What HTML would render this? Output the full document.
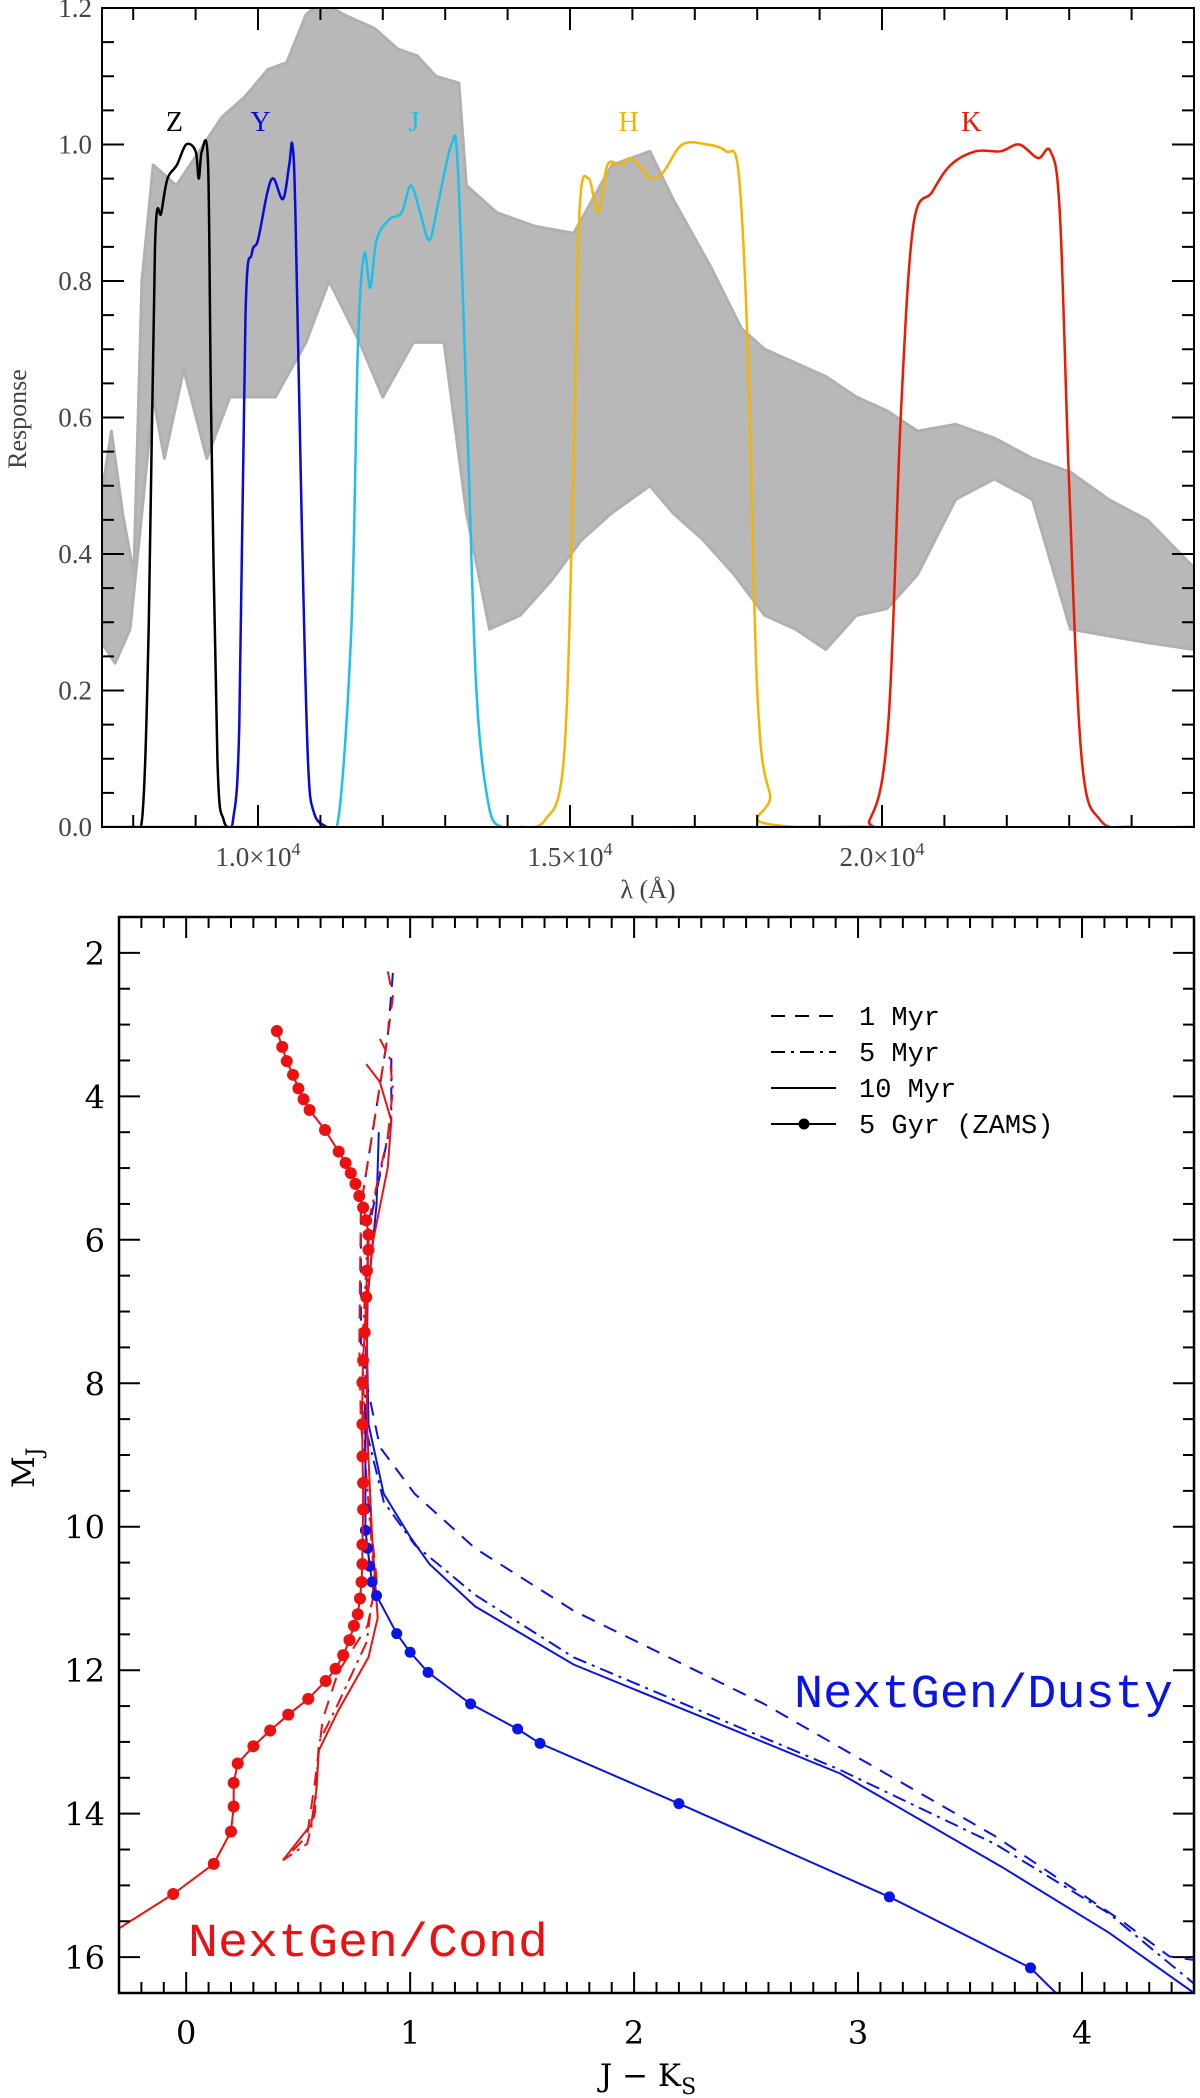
<!DOCTYPE html>
<html><head><meta charset="utf-8"><style>
html,body{margin:0;padding:0;background:#fff;}
svg{display:block;}
</style></head><body>
<svg id="fig" width="1200" height="2098" viewBox="0 0 1200 2098" xmlns="http://www.w3.org/2000/svg" font-family="Liberation Serif, serif">
<defs><clipPath id="bclip"><rect x="119" y="917" width="1075" height="1076"/></clipPath>
<clipPath id="tclip"><rect x="102" y="8" width="1092" height="819"/></clipPath></defs>
<g id="topPanel"></g>
<g id="botPanel"></g>
</svg>
<script>
// ---------- Top panel data ----------
const specWave=[7500,7650,7830,8010,8140,8320,8690,9060,9420,9790,10160,10460,10770,11020,11380,11870,12240,12550,12850,13220,13340,13830,14450,15060,15670,16280,16650,17260,17750,18120,18610,19100,19590,20080,20570,21180,21800,22410,23020,23630,24250,25000];
const specUpper=[0.49,0.58,0.46,0.37,0.80,0.97,0.94,0.99,1.04,1.07,1.11,1.12,1.19,1.21,1.19,1.17,1.14,1.13,1.10,1.09,0.94,0.90,0.88,0.87,0.97,0.99,0.92,0.82,0.73,0.70,0.68,0.66,0.63,0.61,0.58,0.59,0.57,0.54,0.52,0.48,0.45,0.38];
const specLowWave=[7500,7710,7950,8140,8320,8500,8810,9180,9550,9910,10280,10770,11140,11630,12000,12490,12980,13340,13710,14200,14690,15180,15670,16280,16650,17140,17630,18120,18610,19100,19590,20080,20570,21180,21800,22410,23020,23630,24250,25000];
const specLower=[0.27,0.24,0.29,0.46,0.63,0.54,0.67,0.54,0.63,0.63,0.63,0.71,0.80,0.71,0.63,0.71,0.71,0.46,0.29,0.31,0.36,0.42,0.46,0.50,0.46,0.42,0.37,0.31,0.29,0.26,0.31,0.32,0.37,0.48,0.51,0.48,0.29,0.28,0.27,0.26];
const zWave=[8000,8150,8250,8350,8450,8550,8700,8850,9000,9050,9100,9200,9250,9350,9450,9600];
const zResp=[0,0.02,0.3,0.85,0.9,0.95,0.97,1.0,0.99,0.95,0.99,0.97,0.6,0.1,0.01,0];
const yWave=[9500,9600,9700,9800,9900,10000,10150,10250,10400,10500,10550,10600,10700,10800,10900,11100];
const yResp=[0,0.01,0.15,0.75,0.84,0.86,0.93,0.95,0.92,0.97,1.0,0.9,0.45,0.1,0.02,0];
const jWave=[11100,11300,11500,11600,11700,11800,11900,12100,12300,12450,12600,12750,12900,13100,13200,13350,13500,13700,13900];
const jResp=[0,0.02,0.3,0.7,0.84,0.79,0.86,0.89,0.9,0.94,0.9,0.86,0.92,1.0,0.97,0.6,0.2,0.03,0];
const hWave=[14200,14600,14900,15050,15150,15300,15450,15600,15800,15950,16100,16300,16500,16800,17200,17500,17700,17850,18000,18200,18600,25000];
const hResp=[0,0.01,0.1,0.5,0.9,0.95,0.9,0.97,0.97,0.98,0.97,0.95,0.96,1.0,1.0,0.99,0.96,0.7,0.2,0.05,0,0];
const kWave=[7500,19300,19800,20100,20300,20500,20800,21100,21500,21900,22200,22500,22700,22850,23000,23200,23500,24000,25000];
const kResp=[0,0,0.01,0.15,0.6,0.88,0.93,0.97,0.99,0.99,1.0,0.98,0.99,0.9,0.5,0.1,0.01,0,0];
const filterNames=["Z","Y","J","H","K"];
const filterLabelWave=[8660,10040,12500,15940,21430];
const yTickVals=[0,0.2,0.4,0.6,0.8,1.0,1.2];
const yTickLabels=["0.0","0.2","0.4","0.6","0.8","1.0","1.2"];
const xTickVals=[10000,15000,20000];
const xTickLabels=["1.0","1.5","2.0"];

// ---------- Bottom panel data ----------
const zamsRedJK=[0.405,0.429,0.449,0.477,0.501,0.524,0.551,0.620,0.681,0.712,0.735,0.756,0.773,0.790,0.804,0.814,0.814,0.807,0.804,0.797,0.790,0.787,0.787,0.787,0.790,0.790,0.787,0.787,0.783,0.776,0.766,0.749,0.729,0.701,0.667,0.623,0.545,0.456,0.375,0.300,0.230,0.212,0.212,0.200,0.123,-0.058];
const zamsRedMJ=[3.09,3.31,3.51,3.70,3.89,4.04,4.19,4.47,4.77,4.93,5.07,5.22,5.39,5.55,5.73,5.93,6.14,6.43,6.80,7.29,7.68,7.99,8.57,9.02,9.39,9.76,10.25,10.52,10.77,11.00,11.22,11.38,11.58,11.79,11.98,12.15,12.40,12.62,12.84,13.06,13.30,13.57,13.90,14.25,14.70,15.12];
const zamsRedTailJK=[-0.058,-0.30];
const zamsRedTailMJ=[15.12,15.60];
const zamsBlueJK=[0.80,0.80,0.80,0.81,0.82,0.83,0.85,0.94,1.00,1.08,1.27,1.48,1.58,2.20,3.14,3.77,3.90];
const zamsBlueMJ=[8.40,9.75,10.05,10.30,10.55,10.77,10.96,11.49,11.75,12.03,12.47,12.82,13.02,13.86,15.16,16.15,16.55];
const blueDotFrom=1, blueDotTo=15;
const dusty1JK=[0.923,0.90,0.78,0.78,0.807,0.865,1.02,1.29,1.73,2.58,3.61,4.18,4.39,4.50];
const dusty1MJ=[2.28,3.15,5.53,7.48,8.02,8.89,9.54,10.30,11.17,12.47,14.31,15.50,15.99,16.04];
const dusty5JK=[0.916,0.916,0.814,0.797,0.882,1.02,1.29,1.73,2.92,3.61,4.12,4.50];
const dusty5MJ=[3.47,4.34,5.86,8.57,9.65,10.25,10.95,11.82,13.39,14.42,15.39,16.37];
const dusty10JK=[0.86,0.85,0.81,0.807,0.814,0.882,1.0,1.086,1.29,1.73,2.92,3.64,4.12,4.50];
const dusty10MJ=[4.5,5.5,6.8,7.48,8.57,9.54,10.14,10.52,11.11,11.92,13.44,14.74,15.66,16.50];
const cond1JK=[0.90,0.923,0.90,0.78,0.773,0.78,0.814,0.85,0.81,0.678,0.61,0.575,0.54,0.44];
const cond1MJ=[2.26,2.61,3.15,5.53,7.48,8.57,9.65,10.73,11.38,12.03,12.68,13.55,14.31,14.63];
const cond5JK=[0.865,0.909,0.923,0.90,0.814,0.787,0.80,0.84,0.807,0.678,0.592,0.575,0.54,0.432];
const cond5MJ=[3.20,3.47,3.91,4.56,5.75,7.48,9.10,10.73,11.60,12.47,13.01,13.98,14.42,14.65];
const cond10JK=[0.804,0.865,0.916,0.90,0.831,0.807,0.807,0.831,0.855,0.814,0.678,0.592,0.582,0.558,0.432];
const cond10MJ=[3.55,3.80,4.34,4.99,6.07,6.94,8.57,10.19,11.27,11.82,12.57,13.12,13.66,14.15,14.65];
const bxTickVals=[0,1,2,3,4];
const byTickVals=[2,4,6,8,10,12,14,16];
const legendLabels=["1 Myr","5 Myr","10 Myr","5 Gyr (ZAMS)"];

const NS="http://www.w3.org/2000/svg";
function mk(parent,tag,attrs,txt){const e=document.createElementNS(NS,tag);for(const k in attrs)e.setAttribute(k,attrs[k]);if(txt!==undefined)e.textContent=txt;parent.appendChild(e);return e;}
function smoothPath(pts){let d='M'+pts[0][0].toFixed(1)+','+pts[0][1].toFixed(1);
  for(let i=0;i<pts.length-1;i++){const p0=pts[Math.max(0,i-1)],p1=pts[i],p2=pts[i+1],p3=pts[Math.min(pts.length-1,i+2)];
    const c1=[p1[0]+(p2[0]-p0[0])/6,p1[1]+(p2[1]-p0[1])/6],c2=[p2[0]-(p3[0]-p1[0])/6,p2[1]-(p3[1]-p1[1])/6];
    d+='C'+c1[0].toFixed(1)+','+c1[1].toFixed(1)+' '+c2[0].toFixed(1)+','+c2[1].toFixed(1)+' '+p2[0].toFixed(1)+','+p2[1].toFixed(1);}
  return d;}

// ---------- Top panel ----------
const topG=document.getElementById('topPanel');
const TX0=102,TX1=1194,TY0=827,TY1=8;
const tx=l=>TX0+(l-7500)/(25000-7500)*(TX1-TX0);
const ty=v=>TY0-(v/1.2)*(TY0-TY1);
const tInner=mk(topG,'g',{'clip-path':'url(#tclip)'});
let d='M'+specWave.map((w,i)=>tx(w).toFixed(1)+','+ty(specUpper[i]).toFixed(1)).join('L');
for(let i=specLowWave.length-1;i>=0;i--)d+='L'+tx(specLowWave[i]).toFixed(1)+','+ty(specLower[i]).toFixed(1);
const sp=mk(tInner,'path',{d:d+'Z',fill:'#b8b8b8',stroke:'#b0b0b0','stroke-width':3,'stroke-linejoin':'round'});


const filters=[[zWave,zResp,'#000000'],[yWave,yResp,'#0a0ad8'],[jWave,jResp,'#1cc0ea'],[hWave,hResp,'#f5b400'],[kWave,kResp,'#ee1a00']];
filters.forEach((f,k)=>{
  const p=mk(tInner,'path',{d:smoothPath(f[0].map((w,i)=>[tx(w),ty(f[1][i])])),fill:'none',stroke:f[2],'stroke-width':2.5,'stroke-linejoin':'round'});
  
  
  const t=mk(topG,'text',{x:tx(filterLabelWave[k]),y:ty(1.02),'text-anchor':'middle','font-size':28,fill:f[2]},filterNames[k]);
  
  
});
const fr=mk(topG,'rect',{x:TX0,y:TY1,width:TX1-TX0,height:TY0-TY1,fill:'none',stroke:'#000','stroke-width':2});


for(let i=0;i<=24;i++){const v=i*0.05;const major=i%4===0;const L=major?22:12;const y=ty(v);
  mk(topG,'line',{x1:TX0,y1:y,x2:TX0+L,y2:y,stroke:'#000','stroke-width':2});mk(topG,'line',{x1:TX1,y1:y,x2:TX1-L,y2:y,stroke:'#000','stroke-width':2});}
for(let l=8000;l<=25000;l+=1000){const major=l%5000===0;const L=major?22:12;const x=tx(l);
  mk(topG,'line',{x1:x,y1:TY0,x2:x,y2:TY0-L,stroke:'#000','stroke-width':2});mk(topG,'line',{x1:x,y1:TY1,x2:x,y2:TY1+L,stroke:'#000','stroke-width':2});}
yTickVals.forEach((v,i)=>{const t=mk(topG,'text',{x:92,y:ty(v)+9,'text-anchor':'end','font-size':27,fill:'#444'},yTickLabels[i]);
  
  });
xTickVals.forEach((v,i)=>{const t=mk(topG,'text',{x:tx(v),y:866,'text-anchor':'middle','font-size':27,fill:'#444'});
  
  
  t.textContent=xTickLabels[i]+'×10';mk(t,'tspan',{dy:-11,'font-size':18},'4');});
const rl=mk(topG,'text',{x:26,y:419,'text-anchor':'middle','font-size':26,fill:'#444',transform:'rotate(-90 26 419)'},'Response');


const xl=mk(topG,'text',{x:648,y:898,'text-anchor':'middle','font-size':26,fill:'#444'},'λ (Å)');



// ---------- Bottom panel ----------
const botG=document.getElementById('botPanel');
const BX0=119,BX1=1194,BY0=917,BY1=1993;
const bx=v=>BX0+(v+0.3)/4.8*(BX1-BX0);
const by=m=>BY0+(m-1.5)/15*(BY1-BY0);
const plotG=mk(botG,'g',{'clip-path':'url(#bclip)'});
function line(xs,ys,color,dash,name){const p=mk(plotG,'polyline',{points:xs.map((x,i)=>bx(x).toFixed(1)+','+by(ys[i]).toFixed(1)).join(' '),fill:'none',stroke:color,'stroke-width':2,'stroke-dasharray':dash||'none'});
  
  }
line(dusty1JK,dusty1MJ,'#0a14e6','14 10','dusty-1myr');
line(dusty5JK,dusty5MJ,'#0a14e6','14 6 3 6','dusty-5myr');
line(dusty10JK,dusty10MJ,'#0a14e6',null,'dusty-10myr');
line(cond1JK,cond1MJ,'#ee1010','14 10','cond-1myr');
line(cond5JK,cond5MJ,'#ee1010','14 6 3 6','cond-5myr');
line(cond10JK,cond10MJ,'#ee1010',null,'cond-10myr');
line(zamsBlueJK,zamsBlueMJ,'#0a14e6',null,'dusty-zams-line');
for(let i=blueDotFrom;i<=blueDotTo;i++){const c=mk(plotG,'circle',{cx:bx(zamsBlueJK[i]),cy:by(zamsBlueMJ[i]),r:5.5,fill:'#0a14e6'});
  
  }
line(zamsRedJK,zamsRedMJ,'#ee1010',null,'cond-zams-line');
line(zamsRedTailJK,zamsRedTailMJ,'#ee1010',null,'cond-zams-tail');
for(let i=0;i<zamsRedJK.length;i++){const c=mk(plotG,'circle',{cx:bx(zamsRedJK[i]),cy:by(zamsRedMJ[i]),r:6,fill:'#ee1010'});
  
  }
const bf=mk(botG,'rect',{x:BX0,y:BY0,width:BX1-BX0,height:BY1-BY0,fill:'none',stroke:'#000','stroke-width':2.5});


for(let i=-3;i<=45;i++){const v=i/10;const major=i%10===0;const L=major?21:11;const x=bx(v);
  mk(botG,'line',{x1:x,y1:BY1,x2:x,y2:BY1-L,stroke:'#000','stroke-width':2});mk(botG,'line',{x1:x,y1:BY0,x2:x,y2:BY0+L,stroke:'#000','stroke-width':2});}
for(let i=4;i<=33;i++){const m=i/2;const major=i%4===0;const L=major?21:11;const y=by(m);
  mk(botG,'line',{x1:BX0,y1:y,x2:BX0+L,y2:y,stroke:'#000','stroke-width':2});mk(botG,'line',{x1:BX1,y1:y,x2:BX1-L,y2:y,stroke:'#000','stroke-width':2});}
bxTickVals.forEach(v=>{const t=mk(botG,'text',{x:bx(v),y:2044,'text-anchor':'middle','font-size':32,fill:'#000','font-family':'DejaVu Serif, serif'},String(v));
  
  });
byTickVals.forEach(v=>{const t=mk(botG,'text',{x:105,y:by(v)+12,'text-anchor':'end','font-size':32,fill:'#000','font-family':'DejaVu Serif, serif'},String(v));
  
  });
const bxl=mk(botG,'text',{x:648,y:2086,'text-anchor':'middle','font-size':31,fill:'#000','font-family':'DejaVu Serif, serif'},'J − K');


mk(bxl,'tspan',{dy:8,'font-size':22},'S');
const byl=mk(botG,'text',{x:0,y:0,'font-size':31,fill:'#000','font-family':'DejaVu Serif, serif',transform:'translate(34 1488) rotate(-90)'},'M');


mk(byl,'tspan',{dy:8,'font-size':22},'J');
const legDash=['14 10','14 6 3 6','none','none'];
legendLabels.forEach((s,i)=>{const y=1016+i*36;
  const g=mk(botG,'g',{});
  
  
  mk(g,'line',{x1:771,y1:y,x2:836,y2:y,stroke:'#000','stroke-width':2,'stroke-dasharray':legDash[i]});
  if(i===3)mk(g,'circle',{cx:804,cy:y,r:5.5,fill:'#000'});
  mk(g,'text',{x:859,y:y+9,'font-size':27,fill:'#000','font-family':'Liberation Mono, monospace'},s);});
const dl=mk(botG,'text',{x:794,y:1707,'font-size':47,fill:'#0a14e6','font-family':'Liberation Mono, monospace',textLength:379,lengthAdjust:'spacingAndGlyphs'},'NextGen/Dusty');


const cl=mk(botG,'text',{x:188,y:1956,'font-size':47,fill:'#ee1010','font-family':'Liberation Mono, monospace',textLength:360,lengthAdjust:'spacingAndGlyphs'},'NextGen/Cond');


</script>
</body></html>
